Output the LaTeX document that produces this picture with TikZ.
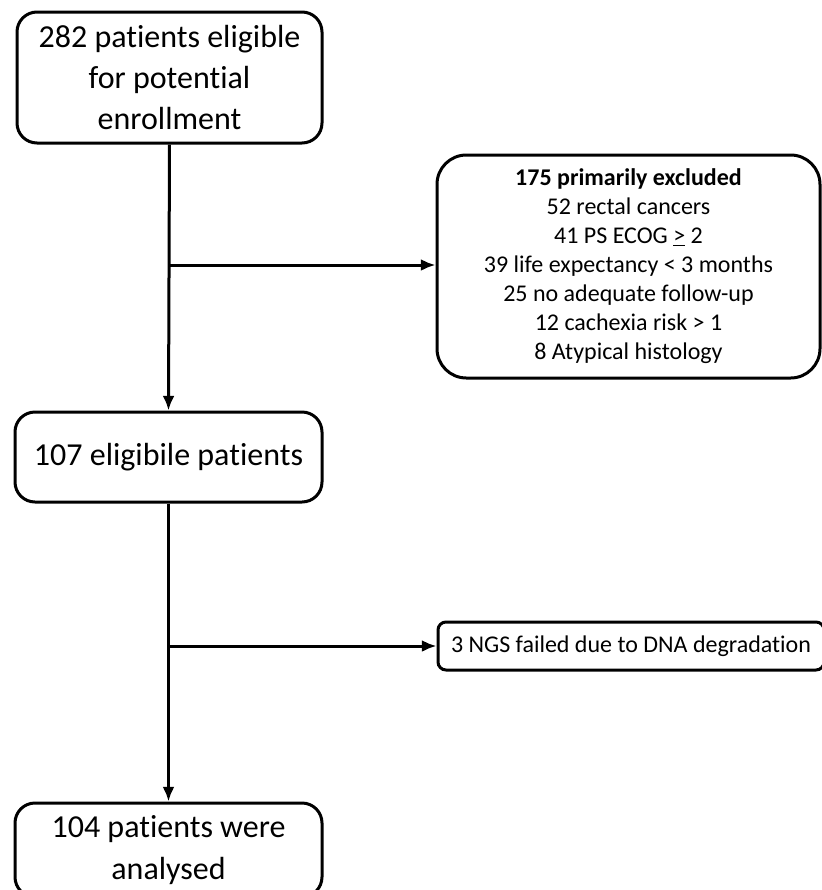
\documentclass[tikz,border=0pt]{standalone}
\usepackage{fontspec}
\setmainfont{Carlito}[Ligatures=NoCommon]
\usetikzlibrary{positioning}
\usetikzlibrary{arrows.meta}
\tikzset{my_flow/.style={->,>={Latex[length=11pt,width=9pt]},line width=2.25pt}}
\tikzset{my_box/.style={draw, rectangle, rounded corners=15pt, line width=2.25pt, align=center, inner sep=2pt, font=\fontsize{24}{31}\selectfont}}
\tikzset{my_note/.style={my_box, rounded corners=22pt, font=\fontsize{18}{21.75}\selectfont}}

\begin{document}
\begin{tikzpicture}[my_flow, x=0.75pt, y=-0.75pt]
    \useasboundingbox (0,0) rectangle (822,890);
    %\draw[help lines, step=50] (0,0) grid (822,890);
    \node[my_box, minimum width=228.75pt, minimum height=98.25pt] (start) at (169.5,77.5)
        {282 patients eligible\\for potential\\enrollment};
    \node[my_box, minimum width=230.25pt, minimum height=67.5pt] (eligible) at (168.5,457)
        {107 eligibile patients};
    \node[my_box, minimum width=230.25pt, minimum height=70.5pt] (analysed) at (168.5,850)
        {104 patients were\\analysed};
    \node[my_note, minimum width=287.25pt, minimum height=167.25pt] (excluded) at (628.5,266.5)
        {\textbf{175 primarily excluded}\\52 rectal cancers\\41 PS ECOG \underline{>} 2\\39 life expectancy < 3 months\\25 no adequate follow-up\\12 cachexia risk > 1\\8 Atypical histology};
    \node[my_note, rounded corners=6pt, minimum width=289.5pt, minimum height=36pt] (failed) at (631,646)
        {3 NGS failed due to DNA degradation};

    \coordinate (split1) at (start.south |- 0,265);
    \coordinate (split2) at (start.south |- 0,646);

    \path
        (start.south) edge (eligible.north)
        (split1) edge (split1 -| excluded.west)
        (eligible.south) edge (analysed.north)
        (split2) edge (split2 -| failed.west)
    ;
\end{tikzpicture}
\end{document}
